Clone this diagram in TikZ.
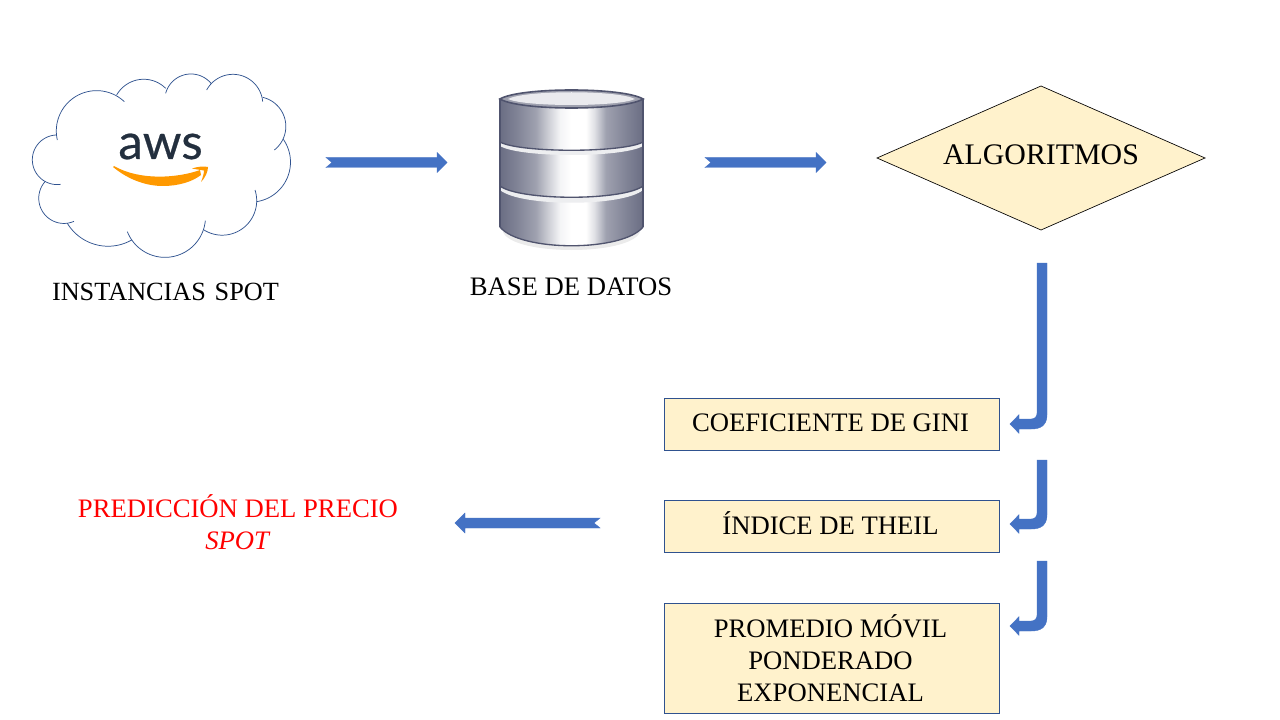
\documentclass[tikz,border=0pt]{standalone}
\usepackage{fontspec}
\setmainfont{Liberation Serif}
\newfontfamily\logofont[FakeBold=0.5]{Lato}
\usetikzlibrary{shapes.geometric,calc}
\definecolor{boxfill}{HTML}{FFF2CC}
\definecolor{boxline}{HTML}{2F528F}
\definecolor{arrowblue}{HTML}{4472C4}
\definecolor{awsink}{HTML}{232F3E}
\definecolor{awsorange}{HTML}{FF9900}
\definecolor{dbedge}{HTML}{50546E}
% the box of a shaded path covers the range 25bp to 75bp of the shading
\pgfdeclarehorizontalshading{metal}{100bp}{
  color(0bp)=(dbedge!85!white);
  color(25bp)=(dbedge!85!white);
  color(31bp)=(dbedge!72!white);
  color(37.5bp)=(dbedge!55!white);
  color(42bp)=(dbedge!28!white);
  color(46bp)=(dbedge!6!white);
  color(50bp)=(white);
  color(55bp)=(white);
  color(58bp)=(dbedge!18!white);
  color(62bp)=(dbedge!55!white);
  color(69bp)=(dbedge!72!white);
  color(75bp)=(dbedge!85!white);
  color(100bp)=(dbedge!85!white)}
\tikzset{
  every node/.style={inner sep=0pt,outer sep=0pt},
  lbl/.style={font=\fontsize{20}{24}\selectfont,align=center},
  stepbox/.style={draw=boxline,line width=0.75pt,fill=boxfill,minimum width=251pt},
  decision/.style={diamond,aspect=2.27,draw=black,line width=0.5pt,fill=boxfill},
  blockarrow/.style={fill=arrowblue,draw=arrowblue,line width=0.3pt},
  lobe/.style={draw=boxline,line width=0.55pt},
  dbpart/.style={shading=metal,draw=dbedge,line width=1pt},
  dbband/.style={fill=dbedge!10!white}
}
% straight block arrow: #1 tail, #2 tip, #3 = 1 (rightwards) or -1 (leftwards)
\newcommand{\blockh}[3]{%
  \path[blockarrow] let \p1=(#1),\p2=(#2) in
    (\x1,\y1+3.75pt) -- (\x2-#3*7.5pt,\y1+3.75pt) -- (\x2-#3*7.5pt,\y1+7.5pt)
    -- (\x2,\y1) -- (\x2-#3*7.5pt,\y1-7.5pt) -- (\x2-#3*7.5pt,\y1-3.75pt)
    -- (\x1,\y1-3.75pt) -- (\x1+#3*4.5pt,\y1) -- cycle;}
% curved block arrow: #1 top of shaft, #2 tip
\newcommand{\blockc}[2]{%
  \path[blockarrow] let \p1=(#1),\p2=(#2) in
    (\x1-3.75pt,\y1) -- (\x1+3.75pt,\y1) -- (\x1+3.75pt,\y2+7pt)
    .. controls (\x1+3.75pt,\y2-1pt) and (\x1-1pt,\y2-3.75pt) .. (\x1-8pt,\y2-3.75pt)
    -- (\x2+6.75pt,\y2-3.75pt) -- (\x2+6.75pt,\y2-7pt) -- (\x2,\y2)
    -- (\x2+6.75pt,\y2+7pt) -- (\x2+6.75pt,\y2+3.75pt) -- (\x1-8pt,\y2+3.75pt)
    .. controls (\x1-5.5pt,\y2+3.75pt) and (\x1-3.75pt,\y2+5.5pt) .. (\x1-3.75pt,\y2+8pt)
    -- cycle;}
% clockwise circular lobe through three points, in hundreds of crop pixels
\newcommand{\lobe}[6]{%
  \pgfmathsetmacro{\qd}{2*(#1*(#4-#6)+#3*(#6-#2)+#5*(#2-#4))}
  \pgfmathsetmacro{\qcx}{((#1*#1+#2*#2)*(#4-#6)+(#3*#3+#4*#4)*(#6-#2)+(#5*#5+#6*#6)*(#2-#4))/\qd}
  \pgfmathsetmacro{\qcy}{((#1*#1+#2*#2)*(#5-#3)+(#3*#3+#4*#4)*(#1-#5)+(#5*#5+#6*#6)*(#3-#1))/\qd}
  \pgfmathsetmacro{\qr}{sqrt((#1-\qcx)*(#1-\qcx)+(#2-\qcy)*(#2-\qcy))}
  \pgfmathsetmacro{\qa}{atan2(#2-\qcy,#1-\qcx)}
  \pgfmathsetmacro{\qb}{atan2(#6-\qcy,#5-\qcx)}
  \pgfmathsetmacro{\qe}{\qb<\qa ? \qb+360 : \qb}
  \draw[lobe] plot[domain=\qa:\qe,samples=40,smooth] ({\qcx+\qr*cos(\x)},{\qcy+\qr*sin(\x)});}
\begin{document}
\begin{tikzpicture}[x=0.75pt,y=-0.75pt]
\useasboundingbox (0,0) rectangle (1280,720);
\fill[white] (0,0) rectangle (1280,720);

% cloud, lobe by lobe
\begin{scope}[shift={(20,60)},x=25pt,y=-25pt]
\lobe{1.12}{2.40}{2.25}{0.92}{3.13}{1.25}
\lobe{2.90}{1.05}{3.65}{0.58}{4.37}{0.85}
\lobe{4.37}{1.00}{5.10}{0.42}{5.73}{0.70}
\lobe{5.60}{0.90}{6.40}{0.43}{7.28}{1.25}
\lobe{7.28}{1.12}{7.97}{1.90}{7.63}{2.70}
\lobe{7.90}{2.38}{7.90}{3.75}{7.10}{4.25}
\lobe{7.05}{3.90}{6.80}{4.95}{5.52}{5.10}
\lobe{5.56}{4.82}{4.40}{5.92}{3.22}{5.15}
\lobe{3.35}{5.40}{2.50}{5.58}{1.42}{4.90}
\lobe{1.62}{4.84}{0.65}{4.50}{0.75}{3.65}
\lobe{1.22}{3.73}{0.37}{3.00}{1.10}{2.25}
\end{scope}

% aws logo
\node[text=awsink,font=\logofont\fontsize{37}{37}\selectfont,anchor=base] (aws) at (160.5,159) {aws};
\fill[awsorange] (113,167) .. controls (130,181) and (148,186) .. (163,186)
  .. controls (178,186) and (192,182) .. (201,175) -- (200,170)
  .. controls (178,178) and (140,181) .. (114,166) -- cycle;
\fill[awsorange] (192,168.5) .. controls (198,166.5) and (204,166) .. (208,167)
  .. controls (208,172) and (205,178) .. (201,182)
  .. controls (203,177) and (204,173) .. (204,170.5)
  .. controls (201,170) and (197,169.5) .. (192,168.5) -- cycle;

% database cylinder
\fill[black!8] (503,232) -- (640,232) .. controls (630,256) and (513,256) .. (503,232) -- cycle;
\path[dbpart] (500,190) -- (500,227) .. controls (520,252) and (623,252) .. (643,227) -- (643,190) -- cycle;
\fill[dbband] (500,186) -- (643,186) -- (643,190) .. controls (623,207) and (520,207) .. (500,190) -- cycle;
\path[dbpart] (500,146) -- (500,186) .. controls (520,201) and (623,201) .. (643,186) -- (643,146) -- cycle;
\fill[dbband] (500,142) -- (643,142) -- (643,146) .. controls (623,158) and (520,158) .. (500,146) -- cycle;
\path[dbpart] (500,99) -- (500,142) .. controls (520,153) and (623,153) .. (643,142) -- (643,99) -- cycle;
\draw[dbedge,line width=1.2pt] (500,99) -- (500,227) (643,99) -- (643,227);
\path[draw=dbedge,line width=1.2pt,fill=dbedge!55!white] (500,99) .. controls (520,87) and (623,87) .. (643,99)
  .. controls (623,111) and (520,111) .. (500,99) -- cycle;
\path[fill=dbedge!12!white] (508,99) .. controls (525,90) and (618,90) .. (635,99)
  .. controls (618,107) and (525,107) .. (508,99) -- cycle;

% labels
\node[font=\fontsize{19.7}{24}\selectfont] (instancias) at (165.5,292) {INSTANCIAS\hspace{6.5pt}SPOT};
\node[lbl] (basedatos) at (571,287) {BASE DE DATOS};
\node[lbl,text=red] (prediccion) at (238,522) {PREDICCIÓN DEL PRECIO\\[0pt]\textit{SPOT}};

% decision and step boxes
\node[decision,minimum width=246pt,minimum height=108pt] (algo) at (1041,158) {};
\node[font=\fontsize{22.4}{24}\selectfont] (algotext) at (1041,155) {ALGORITMOS};
\node[stepbox,minimum height=39pt] (gini) at (832,424) {};
\node[lbl] (ginitext) at (830.5,423) {COEFICIENTE DE GINI};
\node[stepbox,minimum height=39pt] (theil) at (832,526) {};
\node[lbl] (theiltext) at (830.5,523) {ÍNDICE DE THEIL};
\node[stepbox,minimum height=82.5pt] (promedio) at (832,658) {};
\node[lbl] (promediotext) at (830.5,658) {PROMEDIO MÓVIL\\PONDERADO\\EXPONENCIAL};

% connector end points
\coordinate (a1s) at (326,162.5); \coordinate (a1e) at (447,162.5);
\coordinate (a2s) at (705,162.5); \coordinate (a2e) at (826,162.5);
\coordinate (a3s) at (600,523);   \coordinate (a3e) at (455,523);
\coordinate (c1s) at (1042,263);  \coordinate (c1e) at (1010,424);
\coordinate (c2s) at (1042,460);  \coordinate (c2e) at (1010,524);
\coordinate (c3s) at (1042,561);  \coordinate (c3e) at (1010,626);

\blockh{a1s}{a1e}{1}
\blockh{a2s}{a2e}{1}
\blockh{a3s}{a3e}{-1}
\blockc{c1s}{c1e}
\blockc{c2s}{c2e}
\blockc{c3s}{c3e}
\end{tikzpicture}
\end{document}
